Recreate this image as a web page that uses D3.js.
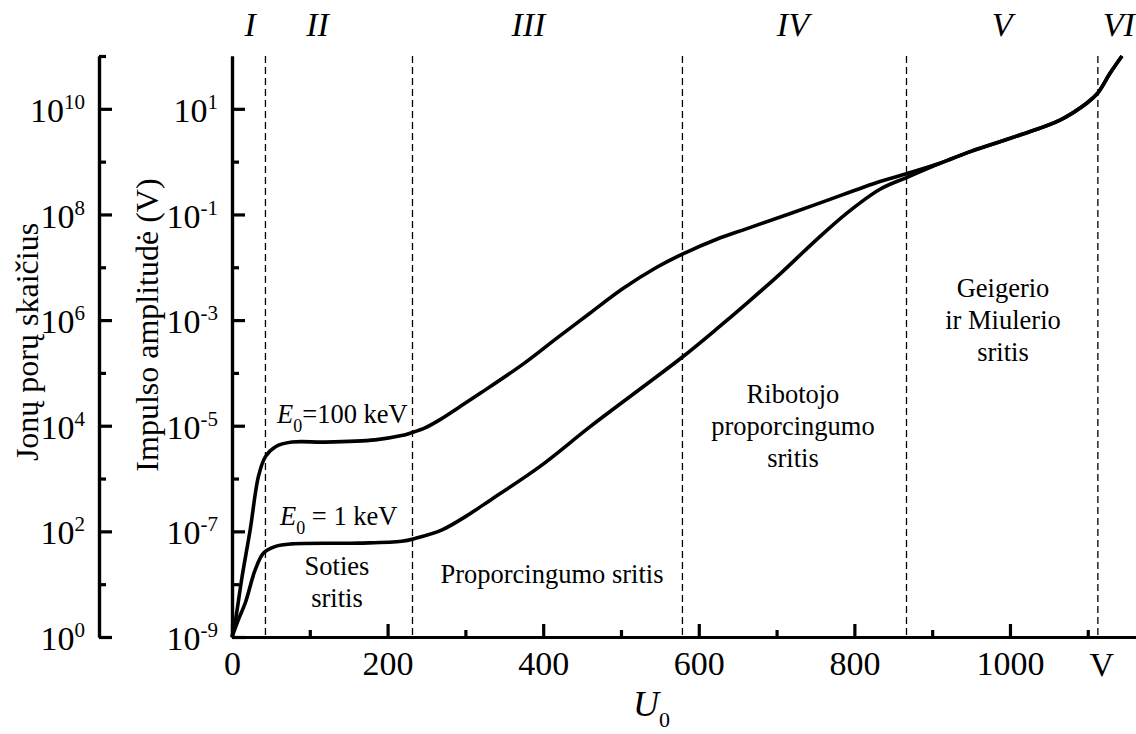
<!DOCTYPE html>
<html>
<head>
<meta charset="utf-8">
<script src="https://cdn.jsdelivr.net/npm/d3@7"></script>
<style>
  body { margin: 0; background: #fff; }
  svg { display: block; }
</style>
</head>
<body>
<div id="chart"></div>
<script>
// U0 (V) and pulse amplitude (V)
var u100 = [0, 4, 13, 23.5, 34, 43, 56, 77, 120, 184, 218, 231, 248, 268, 291, 320, 375, 418, 460, 503, 546, 579, 623, 662, 748, 833, 867, 910, 949, 1013, 1065, 1099, 1113, 1129, 1144];
var amp100 = [1e-9, 1.9e-9, 1.4e-8, 1.1e-7, 1.1e-6, 2.6e-6, 4.0e-6, 4.9e-6, 4.9e-6, 5.4e-6, 6.5e-6, 7.4e-6, 9.1e-6, 1.32e-5, 2.2e-5, 4.2e-5, 1.5e-4, 4.6e-4, 1.35e-3, 4.0e-3, 1.0e-2, 1.78e-2, 3.4e-2, 5.4e-2, 0.15, 0.42, 0.59, 0.93, 1.55, 3.2, 6.2, 12.9, 20, 48, 100];
var u1 = [0, 8, 17, 30, 40.6, 56, 77, 163, 218, 236, 270, 300, 332, 396, 460, 525, 579, 623, 662, 705, 748, 790, 833, 867, 910, 949, 1013, 1065, 1099, 1113, 1129, 1144];
var amp1 = [1e-9, 2.1e-9, 4.4e-9, 1.9e-8, 3.9e-8, 5.2e-8, 5.8e-8, 6.0e-8, 6.5e-8, 7.4e-8, 1.07e-7, 1.9e-7, 3.9e-7, 1.7e-6, 9.5e-6, 5.0e-5, 2.0e-4, 6.8e-4, 2.1e-3, 7.6e-3, 3.0e-2, 0.105, 0.30, 0.50, 0.93, 1.55, 3.2, 6.2, 12.9, 20, 48, 100];

var boundaries = [43, 232, 579, 867, 1113];
var regionNames = ["I", "II", "III", "IV", "V", "VI"];
var regionPos = [23.5, 110, 381, 721, 990, 1140];

var xMajor = [0, 200, 400, 600, 800, 1000];
var xMinor = [100, 300, 500, 700, 900, 1100];
var ampMajor = [-9, -7, -5, -3, -1, 1];
var ampMinor = [-8, -6, -4, -2, 0];
var ionMajor = [0, 2, 4, 6, 8, 10];
var ionMinor = [1, 3, 5, 7, 9, 11];

var serif = '"Liberation Serif", "DejaVu Serif", serif';
var width = 1136, height = 734;
var svg = d3.select("#chart").append("svg")
  .attr("width", width)
  .attr("height", height)
  .attr("font-family", serif);

var x = d3.scaleLinear().domain([0, 1162]).range([232, 1136]);
var y = d3.scaleLog().domain([1e-9, 1e2]).range([637, 56]);
var yIon = d3.scaleLog().domain([1e0, 1e11]).range([637, 56]);

// dashed region boundaries
svg.selectAll(".bound")
  .data(boundaries)
  .enter().append("line")
  .attr("class", "bound")
  .attr("x1", d => x(d)).attr("x2", d => x(d))
  .attr("y1", 56).attr("y2", 637)
  .style("stroke", "#000")
  .style("stroke-width", 1.3)
  .style("stroke-dasharray", "7,4");

// roman numerals on top
svg.selectAll(".region")
  .data(regionNames)
  .enter().append("text")
  .attr("class", "region")
  .attr("x", (d, i) => x(regionPos[i]))
  .attr("y", 36)
  .attr("text-anchor", "middle")
  .style("font-style", "italic")
  .style("font-size", "34px")
  .text(d => d);

// helper: power-of-ten label
function powLabel(sel, exp) {
  sel.text(null);
  sel.append("tspan").text("10");
  sel.append("tspan")
    .attr("dy", -13)
    .style("font-size", "21px")
    .text(exp);
}

function styleAxis(g) {
  g.attr("font-family", serif);
  g.selectAll("text").attr("font-family", serif).attr("fill", "#000");
}

// main amplitude axis
var ampAxis = d3.axisLeft(y)
  .tickValues(ampMajor.map(e => Math.pow(10, e)))
  .tickSizeInner(-13).tickSizeOuter(0).tickPadding(14)
  .tickFormat("");
var gAmp = svg.append("g").attr("transform", "translate(232,0)").call(ampAxis);
gAmp.selectAll(".tick text")
  .data(ampMajor)
  .attr("dy", "0.37em")
  .style("font-size", "34px")
  .each(function(d) { powLabel(d3.select(this), d); });
styleAxis(gAmp);
svg.append("g").attr("transform", "translate(232,0)")
  .call(d3.axisLeft(y).tickValues(ampMinor.map(e => Math.pow(10, e)))
    .tickSizeInner(-7).tickSizeOuter(0).tickFormat(""));

// ion pair axis
var ionAxis = d3.axisLeft(yIon)
  .tickValues(ionMajor.map(e => Math.pow(10, e)))
  .tickSizeInner(-13).tickSizeOuter(0).tickPadding(14)
  .tickFormat("");
var gIon = svg.append("g").attr("transform", "translate(99,0)").call(ionAxis);
gIon.selectAll(".tick text")
  .data(ionMajor)
  .attr("dy", "0.37em")
  .style("font-size", "34px")
  .each(function(d) { powLabel(d3.select(this), d); });
styleAxis(gIon);
svg.append("g").attr("transform", "translate(99,0)")
  .call(d3.axisLeft(yIon).tickValues(ionMinor.map(e => Math.pow(10, e)))
    .tickSizeInner(-7).tickSizeOuter(0).tickFormat(""));

// x axis
var gx = svg.append("g").attr("transform", "translate(0,637)")
  .call(d3.axisBottom(x).tickValues(xMajor)
    .tickSizeInner(-13).tickSizeOuter(0).tickPadding(14)
    .tickFormat(d3.format("d")));
gx.selectAll(".tick text").style("font-size", "34px");
styleAxis(gx);
svg.append("g").attr("transform", "translate(0,637)")
  .call(d3.axisBottom(x).tickValues(xMinor)
    .tickSizeInner(-7).tickSizeOuter(0).tickFormat(""));

svg.selectAll(".domain, .tick line")
  .style("stroke", "#000")
  .style("stroke-width", 3.2);

// unit "V" at the end of x axis
svg.append("text")
  .attr("x", x(1118)).attr("y", 676)
  .attr("text-anchor", "middle")
  .style("font-size", "34px")
  .text("V");

// x title U0
var ut = svg.append("text")
  .attr("x", 633).attr("y", 716)
  .style("font-size", "36px");
ut.append("tspan").style("font-style", "italic").text("U");
ut.append("tspan").attr("dy", 11).style("font-size", "22px").text("0");

// y titles
svg.append("text")
  .attr("transform", "translate(38,342) rotate(-90)")
  .attr("text-anchor", "middle")
  .style("font-size", "32px")
  .text("Jonų porų skaičius");
svg.append("text")
  .attr("transform", "translate(158,325) rotate(-90)")
  .attr("text-anchor", "middle")
  .style("font-size", "32px")
  .text("Impulso amplitudė (V)");

// curves
var line = d3.line()
  .x(d => x(d[0]))
  .y(d => y(d[1]))
  .curve(d3.curveCatmullRom.alpha(0.5));

[d3.zip(u100, amp100), d3.zip(u1, amp1)].forEach(function(pts) {
  svg.append("path")
    .datum(pts)
    .attr("d", line)
    .style("fill", "none")
    .style("stroke", "#000")
    .style("stroke-width", 3.6)
    .style("stroke-linejoin", "round");
});

// curve labels
function eLabel(xp, yp, rest) {
  var t = svg.append("text").attr("x", xp).attr("y", yp).style("font-size", "26.5px");
  t.append("tspan").style("font-style", "italic").text("E");
  t.append("tspan").attr("dy", 9).style("font-size", "18px").text("0");
  t.append("tspan").attr("dy", -9).text(rest);
}
eLabel(277, 423, "=100 keV");
eLabel(280, 525, " = 1 keV");

// region descriptions
function block(lines, cx, y0, lh) {
  var t = svg.append("text")
    .attr("text-anchor", "middle")
    .style("font-size", "26.5px");
  lines.forEach(function(s, i) {
    t.append("tspan").attr("x", cx).attr("y", y0 + i * lh).text(s);
  });
}
block(["Soties", "sritis"], 337, 575, 32);
block(["Proporcingumo sritis"], 552, 583, 32);
block(["Ribotojo", "proporcingumo", "sritis"], 793, 403, 32);
block(["Geigerio", "ir Miulerio", "sritis"], 1003, 297, 32);
</script>
</body>
</html>
